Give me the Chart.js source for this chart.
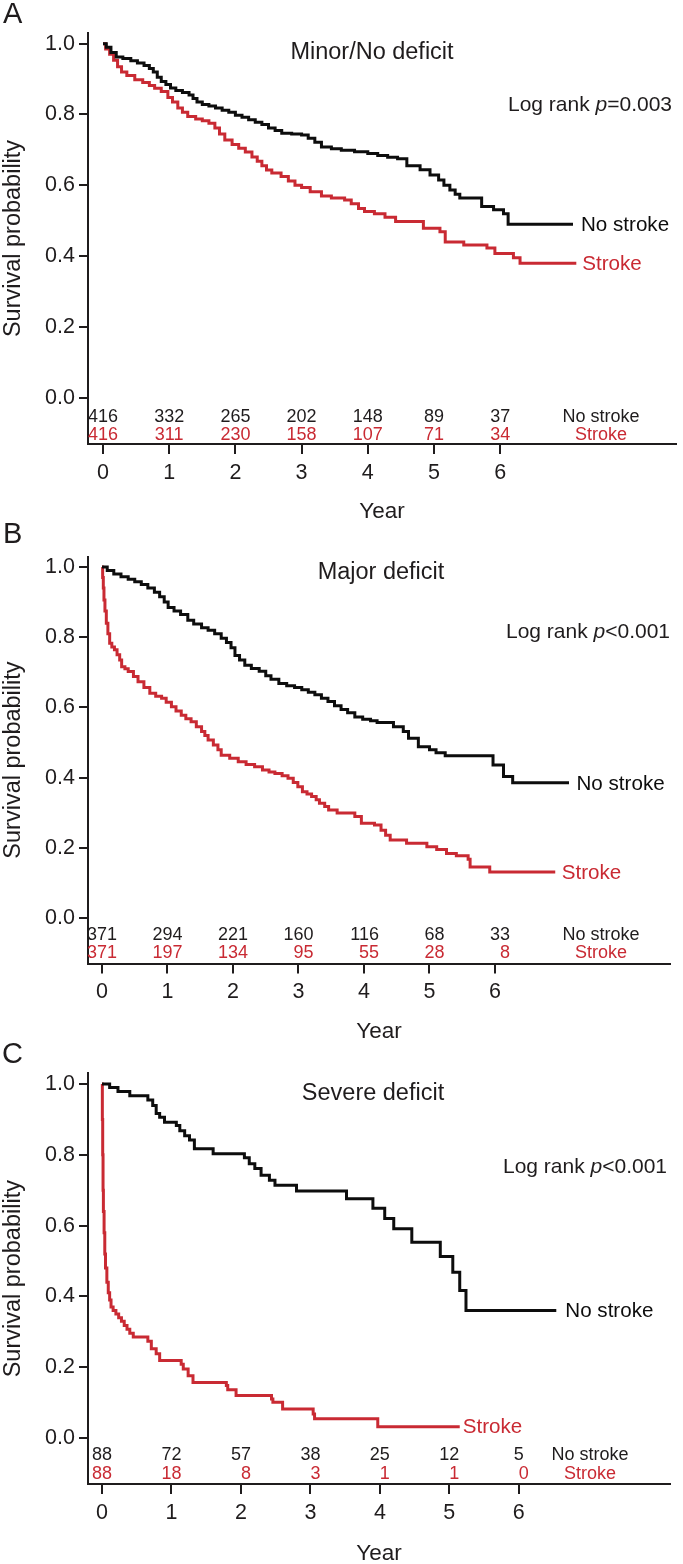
<!DOCTYPE html>
<html><head><meta charset="utf-8">
<script src="https://cdn.jsdelivr.net/npm/chart.js@4.4.1/dist/chart.umd.min.js"></script>
<style>
html,body{margin:0;padding:0;background:#fff;overflow:hidden;}
#wrap{position:relative;width:683px;height:1564px;overflow:hidden;}
canvas{position:absolute;left:0;}
</style></head><body>
<div id="wrap">
<canvas id="cA" width="683" height="530" style="top:0px"></canvas>
<canvas id="cB" width="683" height="530" style="top:520px"></canvas>
<canvas id="cC" width="683" height="530" style="top:1040px"></canvas>
</div>
<script>
// ---------- data ----------
const xTickValues = [0, 1, 2, 3, 4, 5, 6];
const yTickValues = [0, 0.2, 0.4, 0.6, 0.8, 1.0];

// Panel A: Minor/No deficit
const timeA_noStroke = [0,0.05,0.12,0.2,0.3,0.42,0.52,0.62,0.7,0.76,0.82,0.88,0.95,1.02,1.1,1.2,1.3,1.36,1.42,1.5,1.6,1.7,1.8,1.9,2.0,2.1,2.2,2.3,2.4,2.5,2.6,2.7,2.85,3.0,3.1,3.2,3.3,3.45,3.6,3.8,4.0,4.15,4.3,4.45,4.59,4.79,4.94,5.07,5.15,5.24,5.32,5.39,5.72,5.9,6.05,6.12,7.1];
const survA_noStroke = [1,0.99,0.975,0.962,0.958,0.952,0.945,0.938,0.93,0.92,0.905,0.893,0.885,0.875,0.868,0.862,0.855,0.845,0.835,0.828,0.824,0.818,0.812,0.806,0.798,0.792,0.785,0.778,0.772,0.762,0.755,0.747,0.745,0.742,0.733,0.722,0.708,0.703,0.699,0.695,0.69,0.684,0.679,0.675,0.655,0.644,0.629,0.615,0.60,0.587,0.575,0.564,0.54,0.531,0.52,0.49,0.49];
const timeA_stroke = [0,0.04,0.1,0.16,0.22,0.28,0.36,0.48,0.6,0.7,0.78,0.88,0.98,1.05,1.13,1.2,1.28,1.4,1.5,1.6,1.69,1.76,1.84,1.95,2.05,2.15,2.25,2.33,2.4,2.47,2.55,2.69,2.8,2.9,3.0,3.13,3.3,3.45,3.65,3.75,3.86,3.95,4.1,4.26,4.42,4.84,5.09,5.17,5.45,5.8,5.92,6.2,6.3,7.15];
const survA_stroke = [1,0.985,0.97,0.953,0.935,0.92,0.91,0.898,0.89,0.882,0.874,0.865,0.848,0.835,0.818,0.806,0.794,0.787,0.782,0.775,0.762,0.745,0.728,0.715,0.705,0.694,0.68,0.668,0.655,0.643,0.635,0.625,0.612,0.6,0.594,0.582,0.57,0.564,0.559,0.548,0.535,0.526,0.52,0.51,0.498,0.479,0.469,0.44,0.432,0.423,0.408,0.396,0.38,0.38];
const riskA_noStroke = [416,332,265,202,148,89,37];
const riskA_stroke = [416,311,230,158,107,71,34];

// Panel B: Major deficit
const timeB_noStroke = [0,0.08,0.18,0.29,0.4,0.5,0.6,0.7,0.8,0.88,0.95,1.01,1.1,1.2,1.31,1.4,1.52,1.62,1.72,1.82,1.9,1.97,2.03,2.1,2.18,2.28,2.4,2.5,2.58,2.7,2.82,2.94,3.05,3.15,3.25,3.35,3.45,3.55,3.65,3.75,3.86,3.98,4.1,4.2,4.45,4.6,4.68,4.83,5.0,5.1,5.24,5.97,6.13,6.27,7.13];
const survB_noStroke = [1,0.99,0.98,0.972,0.965,0.958,0.95,0.94,0.928,0.915,0.9,0.885,0.875,0.865,0.848,0.838,0.827,0.82,0.81,0.797,0.785,0.77,0.748,0.735,0.72,0.711,0.703,0.69,0.68,0.668,0.662,0.657,0.65,0.643,0.636,0.626,0.617,0.605,0.594,0.585,0.573,0.566,0.562,0.557,0.545,0.531,0.512,0.488,0.479,0.471,0.462,0.436,0.403,0.385,0.385];
const timeB_stroke = [0,0.01,0.02,0.03,0.045,0.066,0.09,0.117,0.15,0.19,0.23,0.27,0.3,0.35,0.4,0.48,0.55,0.64,0.73,0.82,0.91,0.98,1.06,1.13,1.21,1.28,1.36,1.44,1.52,1.57,1.62,1.7,1.77,1.82,1.95,2.08,2.2,2.33,2.45,2.55,2.64,2.75,2.84,2.92,2.99,3.06,3.13,3.2,3.27,3.32,3.4,3.46,3.59,3.86,3.96,4.16,4.26,4.33,4.4,4.65,4.96,5.11,5.26,5.41,5.59,5.62,5.92,6.92];
const survB_stroke = [1,0.97,0.94,0.906,0.875,0.84,0.81,0.783,0.772,0.764,0.75,0.735,0.716,0.71,0.702,0.688,0.673,0.657,0.64,0.632,0.626,0.615,0.602,0.59,0.578,0.568,0.559,0.545,0.531,0.52,0.507,0.493,0.479,0.464,0.455,0.445,0.437,0.431,0.422,0.416,0.412,0.405,0.398,0.386,0.374,0.36,0.353,0.346,0.337,0.327,0.318,0.308,0.299,0.289,0.27,0.265,0.25,0.236,0.222,0.213,0.203,0.195,0.184,0.177,0.167,0.145,0.131,0.131];
const riskB_noStroke = [371,294,221,160,116,68,33];
const riskB_stroke = [371,197,134,95,55,28,8];

// Panel C: Severe deficit
const timeC_noStroke = [0,0.11,0.23,0.40,0.66,0.73,0.78,0.83,0.90,1.07,1.12,1.19,1.26,1.33,1.60,2.05,2.12,2.20,2.29,2.41,2.49,2.80,3.52,3.90,4.07,4.20,4.46,4.87,5.05,5.15,5.24,6.54];
const survC_noStroke = [1,0.99,0.979,0.967,0.955,0.939,0.917,0.906,0.892,0.883,0.868,0.854,0.842,0.817,0.803,0.792,0.775,0.761,0.742,0.728,0.714,0.698,0.676,0.649,0.620,0.591,0.553,0.513,0.468,0.417,0.360,0.360];
const timeC_stroke = [0,0.005,0.01,0.015,0.02,0.03,0.04,0.05,0.07,0.09,0.11,0.13,0.16,0.2,0.24,0.28,0.32,0.36,0.4,0.45,0.66,0.71,0.78,0.83,1.14,1.17,1.24,1.31,1.79,1.81,1.93,2.44,2.46,2.6,3.04,3.06,3.97,5.15];
const survC_stroke = [1,0.9,0.8,0.7,0.64,0.58,0.52,0.48,0.44,0.41,0.39,0.37,0.36,0.35,0.34,0.33,0.318,0.307,0.296,0.285,0.273,0.252,0.238,0.219,0.208,0.195,0.176,0.157,0.148,0.136,0.12,0.11,0.101,0.082,0.068,0.054,0.032,0.032];
const riskC_noStroke = [88,72,57,38,25,12,5];
const riskC_stroke = [88,18,8,3,1,1,0];

// ---------- styles ----------
const FF = "'Liberation Sans', Arial, Helvetica, sans-serif";
const DARK = '#1f1c1d';
const BLACK = '#0d0d0d';
const RED = '#c92a33';
Chart.defaults.font.family = FF;

function pts(t, s) { return t.map((v, i) => ({ x: v, y: s[i] })); }

const annotPlugin = {
  id: 'annot',
  afterDraw(chart, args, o) {
    const p = o.panel; if (!p) return;
    const c = chart.ctx, xs = chart.scales.x, ys = chart.scales.y;
    c.save();
    c.textBaseline = 'middle';
    // panel letter
    c.fillStyle = DARK; c.textAlign = 'left';
    c.font = `29px ${FF}`; c.fillText(p.letter, p.letterX, p.letterY);
    // title
    c.font = `23.5px ${FF}`; c.textAlign = 'center';
    c.fillText(p.title, p.titleX, p.titleY);
    // log rank
    const parts = [['Log rank ', false], ['p', true], [p.pText, false]];
    let w = 0;
    parts.forEach(([s, it]) => { c.font = `${it ? 'italic ' : ''}21px ${FF}`; w += c.measureText(s).width; });
    let x = p.logX - w; c.textAlign = 'left';
    parts.forEach(([s, it]) => { c.font = `${it ? 'italic ' : ''}21px ${FF}`; c.fillText(s, x, p.logY); x += c.measureText(s).width; });
    // curve labels at curve ends
    c.font = `20.6px ${FF}`; c.textAlign = 'left';
    const d0 = chart.data.datasets[0].data, d1 = chart.data.datasets[1].data;
    const e0 = d0[d0.length - 1], e1 = d1[d1.length - 1];
    c.fillStyle = BLACK;
    c.fillText('No stroke', xs.getPixelForValue(e0.x) + p.gapNo, ys.getPixelForValue(e0.y) + 1);
    c.fillStyle = RED;
    c.fillText('Stroke', xs.getPixelForValue(e1.x) + p.gapSt, ys.getPixelForValue(e1.y) + 1);
    // numbers at risk
    c.font = `18px ${FF}`;
    const rows = [[p.riskNo, DARK, p.alignNo, p.offNo, p.rowY1, 'No stroke'], [p.riskSt, RED, p.alignSt, p.offSt, p.rowY2, 'Stroke']];
    rows.forEach(([vals, col, al, off, y, lab]) => {
      c.fillStyle = col; c.textAlign = al;
      xTickValues.forEach((t, i) => { c.fillText(String(vals[i]), xs.getPixelForValue(t) + off, y); });
      c.textAlign = 'center';
      c.fillText(lab, p.rowLabX, y);
    });
    c.restore();
  }
};

function makePanel(id, p) {
  const H = 530;
  new Chart(document.getElementById(id), {
    type: 'line',
    data: { datasets: [
      { label: 'No stroke', data: pts(p.tNo, p.sNo), borderColor: BLACK, borderWidth: 3, stepped: true, pointRadius: 0, fill: false },
      { label: 'Stroke', data: pts(p.tSt, p.sSt), borderColor: RED, borderWidth: 3, stepped: true, pointRadius: 0, fill: false }
    ]},
    options: {
      responsive: false, animation: false, devicePixelRatio: 1,
      layout: { padding: { top: p.top, right: 683 - p.right, left: 0, bottom: 0 } },
      plugins: { legend: { display: false }, tooltip: { enabled: false }, annot: { panel: p } },
      scales: {
        x: {
          type: 'linear', min: p.xmin, max: p.xmax,
          afterBuildTicks: s => { s.ticks = xTickValues.map(v => ({ value: v })); },
          afterFit: s => { s.height = H - p.bottom; },
          grid: { display: true, drawOnChartArea: false, drawTicks: true, tickLength: 10, color: DARK, lineWidth: 2 },
          border: { display: true, color: DARK, width: 2 },
          ticks: { font: { size: 21.5 }, color: DARK, padding: 6, autoSkip: false, maxRotation: 0, callback: v => String(v) },
          title: { display: true, text: 'Year', font: { size: 22.5 }, color: DARK, padding: { top: 0, bottom: p.yearPad } }
        },
        y: {
          type: 'linear', min: -0.13, max: 1.03,
          afterBuildTicks: s => { s.ticks = yTickValues.map(v => ({ value: v })); },
          afterFit: s => { s.width = 88; },
          grid: { display: true, drawOnChartArea: false, drawTicks: true, tickLength: 9, color: DARK, lineWidth: 2 },
          border: { display: true, color: DARK, width: 2 },
          ticks: { font: { size: 21.5 }, color: DARK, padding: 4, callback: v => Number(v).toFixed(1) },
          title: { display: true, text: 'Survival probability', font: { size: 23.5 }, color: DARK, padding: { top: -1, bottom: 0 } }
        }
      }
    },
    plugins: [annotPlugin]
  });
}

makePanel('cA', {
  tNo: timeA_noStroke, sNo: survA_noStroke, tSt: timeA_stroke, sSt: survA_stroke,
  riskNo: riskA_noStroke, riskSt: riskA_stroke,
  top: 33, bottom: 444, right: 676, xmin: -0.2266, xmax: 8.656, yearPad: 4.5,
  letter: 'A', letterX: 3, letterY: 15, title: 'Minor/No deficit', titleX: 372, titleY: 53,
  pText: '=0.003', logX: 672, logY: 105, gapNo: 8, gapSt: 6,
  alignNo: 'center', offNo: 0, alignSt: 'center', offSt: 0, rowY1: 417, rowY2: 435, rowLabX: 601
});
makePanel('cB', {
  tNo: timeB_noStroke, sNo: survB_noStroke, tSt: timeB_stroke, sSt: survB_stroke,
  riskNo: riskB_noStroke, riskSt: riskB_stroke,
  top: 36.5, bottom: 443.6, right: 670, xmin: -0.2137, xmax: 8.672, yearPad: 4.5,
  letter: 'B', letterX: 3, letterY: 15, title: 'Major deficit', titleX: 381, titleY: 53,
  pText: '<0.001', logX: 670, logY: 112, gapNo: 7.5, gapSt: 6.5,
  alignNo: 'right', offNo: 15, alignSt: 'right', offSt: 15, rowY1: 415, rowY2: 433, rowLabX: 601
});
makePanel('cC', {
  tNo: timeC_noStroke, sNo: survC_noStroke, tSt: timeC_stroke, sSt: survC_stroke,
  riskNo: riskC_noStroke, riskSt: riskC_stroke,
  top: 33.4, bottom: 444, right: 670, xmin: -0.2016, xmax: 8.177, yearPad: 2.5,
  letter: 'C', letterX: 2, letterY: 15, title: 'Severe deficit', titleX: 373, titleY: 53.5,
  pText: '<0.001', logX: 667, logY: 127, gapNo: 9, gapSt: 3,
  alignNo: 'center', offNo: 0, alignSt: 'right', offSt: 10, rowY1: 415.5, rowY2: 434, rowLabX: 590
});
</script>
</body></html>
